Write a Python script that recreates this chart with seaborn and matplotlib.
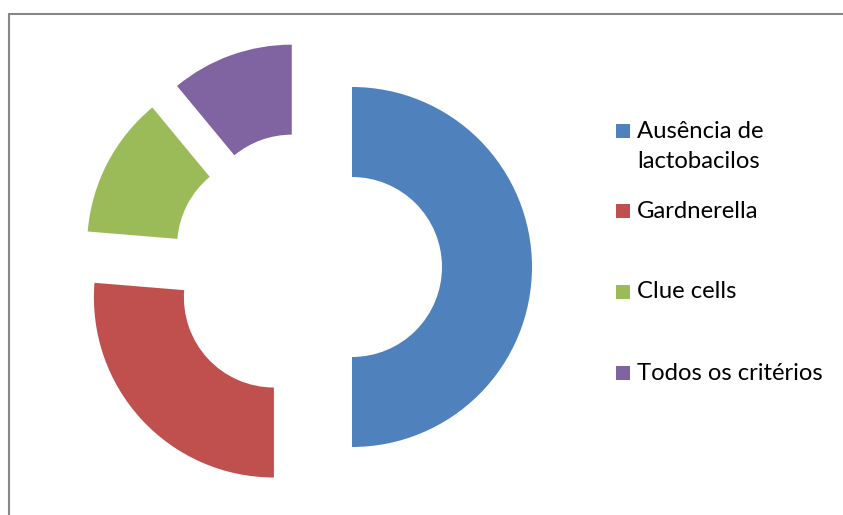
import matplotlib
matplotlib.use("Agg")
import matplotlib.pyplot as plt
import seaborn as sns
from matplotlib.patches import Rectangle

categories = ["Ausência de\nlactobacilos", "Gardnerella", "Clue cells", "Todos os critérios"]
values = [50, 26.3, 12.7, 11]
colors = ["#4F81BD", "#C0504D", "#9BBB59", "#8064A2"]

sns.set_theme(style="white")
plt.rcParams["font.family"] = ["Lato", "DejaVu Sans"]

W, H = 843, 515
fig = plt.figure(figsize=(W / 100, H / 100), dpi=100)
ax = fig.add_axes([0, 0, 1, 1])

R = 180
cx, cy = 307, H - 267
explode = [45] * len(values)
ax.pie(values, colors=colors, startangle=90, counterclock=False,
       radius=R, center=(cx, cy), explode=explode,
       wedgeprops=dict(width=R * 0.5, linewidth=0))
ax.set_xlim(0, W)
ax.set_ylim(0, H)
ax.set_aspect("equal")
ax.axis("off")

# chart border (cropped at right and bottom)
fig.add_artist(plt.Line2D([9 / W, 9 / W], [0, 1 - 13.5 / H], transform=fig.transFigure,
                          color="#868686", linewidth=1.5))
fig.add_artist(plt.Line2D([9 / W, 1], [1 - 13.5 / H, 1 - 13.5 / H], transform=fig.transFigure,
                          color="#868686", linewidth=1.5))

# legend
legend_y = [131, 211, 292, 373]
for lab, col, ly in zip(categories, colors, legend_y):
    ax.add_patch(Rectangle((616, H - ly - 7), 14, 14, color=col, linewidth=0))
    lines = lab.split("\n")
    for k, line in enumerate(lines):
        ax.text(637, H - ly - 31 * k, line, fontsize=17.2, va="center",
                ha="left", color="black", transform=ax.transData)

fig.savefig("out.png", dpi=100)
